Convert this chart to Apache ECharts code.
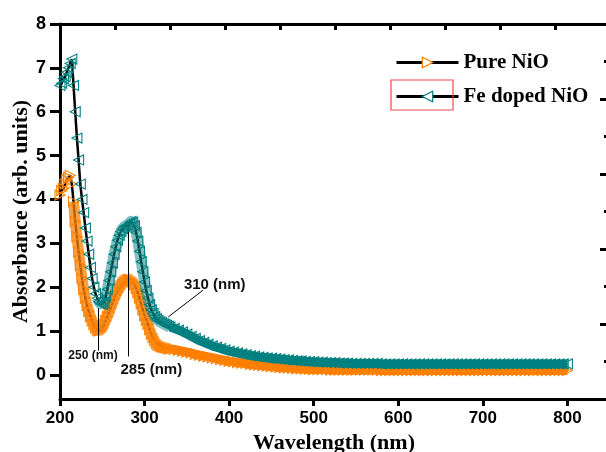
<!DOCTYPE html>
<html><head><meta charset="utf-8">
<script src="https://cdn.jsdelivr.net/npm/echarts@6/dist/echarts.min.js"></script>
<style>html,body{margin:0;padding:0;background:#fff}#c{width:606px;height:452px}</style>
</head><body><div id="c"></div>
<script>
var wavelength = [200,202,204,206,208,210,212,214,216,218,220,222,224,226,228,230,232,234,236,238,240,242,244,246,248,250,252,254,256,258,260,262,264,266,268,270,272,274,276,278,280,282,284,286,288,290,292,294,296,298,300,302,304,306,308,310,312,314,316,318,320,322,324,326,328,330,
335,340,345,350,355,360,365,370,375,380,385,390,395,400,405,410,415,420,425,430,435,440,445,450,455,460,465,470,475,480,485,490,495,500,
505,510,515,520,525,530,535,540,545,550,555,560,565,570,575,580,585,590,595,600,605,610,615,620,625,630,635,640,645,650,
655,660,665,670,675,680,685,690,695,700,705,710,715,720,725,730,735,740,745,750,755,760,765,770,775,780,785,790,795,800];

var feDoped = [6.6,6.65,6.75,6.8,6.9,7.0,7.1,7.2,6.6,6.0,5.4,4.9,4.35,4.0,3.7,3.35,3.05,2.75,2.45,2.2,2.0,1.85,1.75,1.67,1.62,1.6,1.65,1.78,1.95,2.15,2.35,2.55,2.75,2.92,3.07,3.18,3.27,3.33,3.38,3.4,3.42,3.46,3.5,3.48,3.4,3.25,3.05,2.82,2.58,2.35,2.12,1.92,1.75,1.6,1.48,1.4,1.33,1.28,1.24,1.21,1.19,1.17,1.15,1.13,1.11,1.09,
1.06,1.02,0.98,0.93,0.88,0.83,0.78,0.74,0.7,0.66,0.63,0.6,0.57,0.54,0.52,0.5,0.48,0.46,0.44,0.43,0.41,0.4,0.39,0.38,0.37,0.36,0.35,0.34,0.33,0.32,0.32,0.31,0.3,0.3,
0.29,0.29,0.28,0.28,0.28,0.27,0.27,0.27,0.26,0.26,0.26,0.26,0.26,0.26,0.26,0.25,0.25,0.25,0.25,0.25,0.25,0.25,0.25,0.25,0.25,0.25,0.25,0.25,0.25,0.25,
0.25,0.25,0.25,0.25,0.25,0.25,0.25,0.25,0.25,0.25,0.25,0.25,0.25,0.25,0.25,0.25,0.25,0.25,0.25,0.25,0.25,0.25,0.25,0.25,0.25,0.25,0.25,0.25,0.25,0.25];

var pureNiO = [4.1,4.2,4.25,4.35,4.45,4.5,4.55,4.35,3.95,3.5,3.15,2.8,2.5,2.2,1.95,1.75,1.58,1.45,1.33,1.23,1.15,1.08,1.02,1.0,1.02,1.07,1.15,1.24,1.33,1.43,1.53,1.63,1.73,1.82,1.9,1.97,2.03,2.08,2.12,2.15,2.17,2.18,2.16,2.12,2.05,1.97,1.87,1.75,1.62,1.48,1.35,1.25,1.15,1.03,0.93,0.85,0.78,0.72,0.68,0.66,0.64,0.63,0.62,0.61,0.6,0.59,
0.58,0.56,0.54,0.52,0.5,0.47,0.45,0.43,0.41,0.39,0.37,0.35,0.33,0.31,0.3,0.28,0.27,0.26,0.24,0.23,0.22,0.21,0.2,0.19,0.18,0.17,0.16,0.16,0.15,0.14,0.14,0.13,0.13,0.12,
0.12,0.12,0.12,0.11,0.11,0.11,0.11,0.11,0.11,0.11,0.11,0.11,0.11,0.11,0.11,0.1,0.1,0.1,0.1,0.1,0.1,0.1,0.1,0.1,0.1,0.1,0.1,0.1,0.1,0.1,
0.1,0.1,0.1,0.1,0.1,0.1,0.1,0.1,0.1,0.1,0.1,0.1,0.1,0.1,0.1,0.1,0.1,0.1,0.1,0.1,0.1,0.1,0.1,0.1,0.1,0.1,0.1,0.1,0.1,0.1];

var xTicks = [200,300,400,500,600,700,800];
var yTicks = [0,1,2,3,4,5,6,7,8];
var seriesNames = ['Pure NiO','Fe doped NiO'];
// where the overlapping markers start to read as a dense band (peak part), and as a solid band (tail)
var bandFrom = {pure:216, fe:244};
var solidFrom = 330;
var peakNotes = [
  {text:'250 (nm)', from:[245,1.52], to:[245,0.55], label:[239,0.43], size:12},
  {text:'285 (nm)', from:[280.5,3.42], to:[280.5,0.42], label:[308,0.11], size:15},
  {text:'310 (nm)', from:[328,1.32], to:[369,1.93], label:[383,2.06], size:15}
];

var ORANGE = '#ff8000', TEAL = '#008080';
function pairs(ys){ return wavelength.map(function(w,i){ return [w, ys[i]]; }); }
function range(ys, a, b){ return pairs(ys).filter(function(p){ return p[0] >= a && p[0] <= b; }); }
var sansBold = {fontFamily:'Liberation Sans, Arial, sans-serif', fontWeight:'bold', color:'#000'};
var serifBold = {fontFamily:'Liberation Serif, Times New Roman, serif', fontWeight:'bold', color:'#000'};

function layers(name, ys, color, rot, from, peakAlpha, z0, extra){
  return [
    {name:name+' line', type:'line', data:pairs(ys), z:z0, silent:true, symbol:'none',
     lineStyle:{color:'#000', width:2.5}},
    {name:name+' peak band', type:'line', data:range(ys, from, solidFrom), z:z0+1, silent:true, symbol:'none',
     lineStyle:{color:color, width:11, opacity:peakAlpha, cap:'butt', join:'round'}},
    {name:name+' tail band', type:'line', data:range(ys, solidFrom, 800), z:z0+1, silent:true, symbol:'none',
     lineStyle:{color:color, width:9, cap:'butt', join:'round'}},
    Object.assign({name:name, type:'line', data:pairs(ys), z:z0+2,
     symbol:'triangle', symbolRotate:rot, symbolSize:10, showAllSymbol:true,
     lineStyle:{color:'#000', width:2.5, opacity:0},
     itemStyle:{color:'rgba(255,255,255,0)', borderColor:color, borderWidth:1.1}}, extra || {})
  ];
}

var chart = echarts.init(document.getElementById('c'), null, {renderer:'canvas'});
chart.setOption({
  animation:false,
  backgroundColor:'#fff',
  grid:{left:60, top:24, right:-2, bottom:53, containLabel:false, outerBoundsMode:'none'},
  xAxis:[{
    type:'value', min:200, max:848, position:'bottom',
    name:'Wavelength (nm)', nameLocation:'middle', nameGap:33, nameMoveOverlap:false,
    nameTextStyle:Object.assign({fontSize:22}, serifBold),
    axisLine:{show:true, onZero:false, lineStyle:{color:'#000', width:3}},
    axisTick:{show:true, customValues:xTicks, length:7, lineStyle:{color:'#000', width:3}},
    axisLabel:Object.assign({customValues:xTicks, fontSize:17, margin:11}, sansBold),
    splitLine:{show:false}
  },{
    type:'value', min:0, max:548, interval:55, position:'top',
    axisLine:{show:true, onZero:false, lineStyle:{color:'#000', width:3}},
    axisTick:{show:true, inside:true, length:6, lineStyle:{color:'#000', width:3}},
    axisLabel:{show:false}, splitLine:{show:false}
  }],
  yAxis:[{
    type:'value', min:-0.55, max:8, position:'left',
    name:'Absorbance (arb. units)', nameLocation:'middle', nameGap:28, nameRotate:90, nameMoveOverlap:false,
    nameTextStyle:Object.assign({fontSize:22}, serifBold),
    axisLine:{show:true, onZero:false, lineStyle:{color:'#000', width:3}},
    axisTick:{show:true, customValues:yTicks, length:10, lineStyle:{color:'#000', width:3}},
    axisLabel:Object.assign({customValues:yTicks, fontSize:18, margin:14}, sansBold),
    splitLine:{show:false}
  },{
    type:'value', min:0, max:375, interval:75, position:'right',
    axisLine:{show:true, onZero:false, lineStyle:{color:'#000', width:3}},
    axisTick:{show:true, inside:true, length:8, lineStyle:{color:'#000', width:3}},
    minorTick:{show:true, splitNumber:2, length:4, lineStyle:{color:'#000', width:3}},
    axisLabel:{show:false}, splitLine:{show:false}
  }],
  legend:{
    orient:'vertical', left:390, top:47, itemWidth:62, itemHeight:13, itemGap:13,
    textStyle:Object.assign({fontSize:21}, serifBold),
    data:[
      {name:seriesNames[0], itemStyle:{color:'#fff', borderColor:ORANGE, borderWidth:1.2}, lineStyle:{color:'#000', width:3, opacity:1}},
      {name:seriesNames[1], itemStyle:{color:'#fff', borderColor:TEAL, borderWidth:1.2}, lineStyle:{color:'#000', width:3, opacity:1}}
    ]
  },
  graphic:[{type:'rect', shape:{x:391, y:80, width:62, height:30}, style:{fill:'none', stroke:'#f04848', lineWidth:1.2}, z:100}],
  series: [].concat(
    layers(seriesNames[0], pureNiO, ORANGE, -90, bandFrom.pure, 0.75, 1),
    layers(seriesNames[1], feDoped, TEAL, 90, bandFrom.fe, 0.5, 5, {
      markLine:{
        silent:true, symbol:['none','arrow'], symbolSize:[0,9], precision:2,
        lineStyle:{color:'#000', width:1, type:'solid', opacity:1}, label:{show:false},
        data:peakNotes.map(function(n){ return [{coord:n.from},{coord:n.to}]; })
      },
      markPoint:{
        silent:true, symbol:'rect', symbolSize:1, itemStyle:{color:'rgba(0,0,0,0)'},
        data:peakNotes.map(function(n){
          return {coord:n.label, label:{show:true, position:'inside', formatter:n.text, fontSize:n.size, color:'#111', fontFamily:'Liberation Sans, Arial, sans-serif', fontWeight:'bold'}};
        })
      }
    })
  )
});
</script></body></html>
